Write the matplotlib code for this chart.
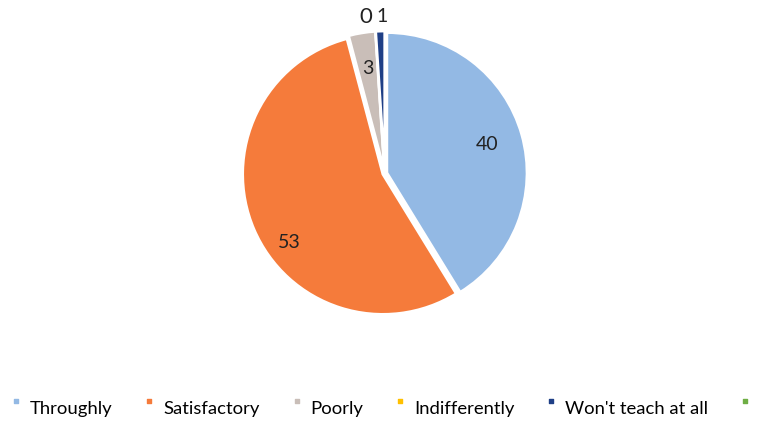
import matplotlib
matplotlib.use("Agg")
import matplotlib.pyplot as plt
from matplotlib.path import Path
from matplotlib.lines import Line2D
import numpy as np

categories = ["Throughly", "Satisfactory", "Poorly", "Indifferently", "Won't teach at all", ""]
values = [40, 53, 3, 0, 1]
colors = ["#93B9E4", "#F57B3B", "#C9BEB8", "#FFC000", "#1F3F86", "#6FAE45"]

plt.rcParams['font.family'] = ['Lato', 'DejaVu Sans']

fig = plt.figure(figsize=(7.62, 4.28), dpi=100)
fig.patch.set_facecolor("white")
W, H = 0.46, 0.82
ax = fig.add_axes([0.505 - W / 2, 0.595 - H / 2, W, H])

wedges, texts, autotexts = ax.pie(
    values, colors=colors[:len(values)], startangle=90, counterclock=False,
    explode=[0.015] * len(values),
    wedgeprops=dict(edgecolor="white", linewidth=2),
    autopct=lambda p: "", pctdistance=0.74)
ax.set_aspect("equal")

total = sum(values)
for w, v, t in zip(wedges, values, autotexts):
    t.set_text(str(v))
    t.set_fontsize(14)
    t.set_color("#222222")

# largest slice label sits lower-left (best-fit style placement)
imax = int(np.argmax(values))
w = wedges[imax]
ang = np.deg2rad(w.theta1 + 0.565 * (w.theta2 - w.theta1))
autotexts[imax].set_position((0.84 * np.cos(ang), 0.84 * np.sin(ang)))

# move small-value labels outside, at top
small = [(i, v) for i, v in enumerate(values) if v / total < 0.02]
for k, (i, v) in enumerate(small):
    w = wedges[i]
    ang = np.deg2rad((w.theta1 + w.theta2) / 2)
    r = 1.12
    x = r * np.cos(ang) + (-0.06 if v == 0 else 0.02)
    y = r * np.sin(ang)
    autotexts[i].set_position((x, y))
    autotexts[i].set_fontsize(16 if v == 0 else 14)
    autotexts[i].set_ha("center")
    autotexts[i].set_va("center")

# raised square legend marker
sq = Path([(-0.35, 0.6), (0.35, 0.6), (0.35, 1.3), (-0.35, 1.3), (-0.35, 0.6)],
          [Path.MOVETO, Path.LINETO, Path.LINETO, Path.LINETO, Path.CLOSEPOLY])
handles = [Line2D([], [], linestyle="none", marker=sq, markersize=11,
                  markerfacecolor=c, markeredgecolor=c) for c in colors]
fig.legend(handles, categories, loc="center", bbox_to_anchor=(0.505, 0.045),
           ncol=6, frameon=False, fontsize=13.3, handlelength=0.6,
           handletextpad=0.45, columnspacing=1.7)

fig.savefig("out.png", dpi=100, facecolor="white")
